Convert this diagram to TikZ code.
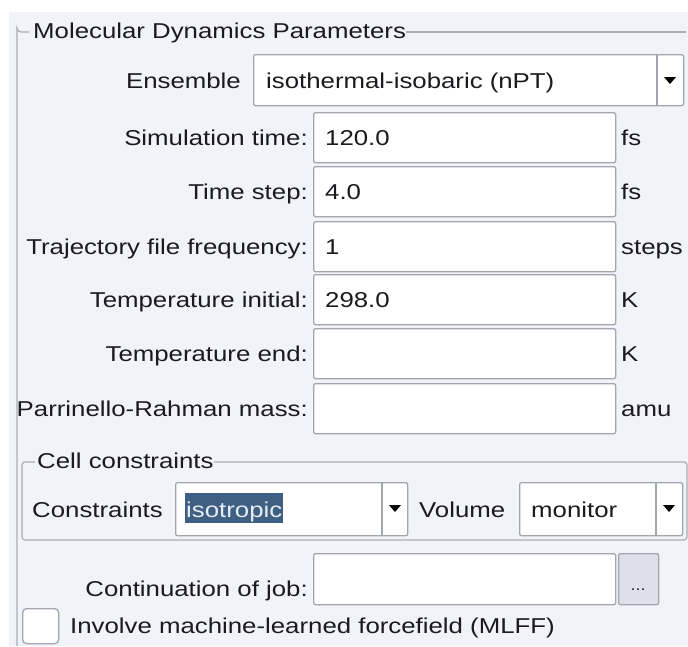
\documentclass[tikz,border=0pt]{standalone}
\usepackage{fontspec}
\setmainfont[FakeStretch=1.2]{Liberation Sans}
\definecolor{bg}{HTML}{F1F3F8}
\definecolor{frame}{HTML}{A9ADB5}
\definecolor{fborder}{HTML}{A2A6AE}
\definecolor{txt}{HTML}{1B1B1F}
\definecolor{btn}{HTML}{DDE0E8}
\definecolor{hl}{HTML}{3F6082}
\definecolor{hltxt}{HTML}{E6ECF3}
\begin{document}
\begin{tikzpicture}[x=1pt,y=-1pt,
  every node/.style={font=\fontsize{21.5}{24}\selectfont, text=txt, inner sep=0pt},
  lbl/.style={anchor=base east},
  val/.style={anchor=base west},
  field/.style={draw=fborder, line width=1.3pt, fill=white, rounded corners=2pt, anchor=north west},
  sep/.style={draw=fborder, line width=1.3pt},
  btnbox/.style={draw=fborder, line width=1.3pt, fill=btn, rounded corners=2pt, anchor=north west},
  frameline/.style={draw=frame, line width=1.2pt},
  tri/.style={fill=black}
]
\useasboundingbox (0,0) rectangle (688,646);
\fill[white] (0,0) rectangle (688,646);
\fill[bg] (9,12) rectangle (688,646);

% outer frame
\draw[frameline] (29,32) -- (21,32) arc[start angle=90,end angle=180,radius=4] -- (17,646);
\draw[frameline] (406,32) -- (686,32);
\node[anchor=base west] (title) at (33,38) {Molecular Dynamics Parameters};

% ensemble
\node[lbl] (lens) at (241,88) {Ensemble};
\node[field, minimum width=430, minimum height=51] (ens) at (253,54) {};
\draw[sep] (657,54) -- (657,105);
\node[val] (vens) at (266,88) {isothermal-isobaric (nPT)};
\fill[tri] (664,77) -- (676,77) -- (670,84) -- cycle;

% fields
\foreach \n/\y/\lab/\v/\u in {
  1/112/Simulation time:/120.0/fs,
  2/166/Time step:/4.0/fs,
  3/221/Trajectory file frequency:/1/steps,
  4/274/Temperature initial:/298.0/K,
  5/328/Temperature end:/ /K,
  6/383/Parrinello-Rahman mass:/ /amu}{
  \node[field, minimum width=302, minimum height=50] (f\n) at (313,\y) {};
  \node[lbl] (l\n) at (308,\y+33) {\lab};
  \node[val] (v\n) at (325,\y+33) {\v};
  \node[val] (u\n) at (621,\y+33) {\u};
}

% cell constraints frame
\draw[frameline, rounded corners=3pt] (35,462) -- (22,462) -- (22,540) -- (687,540) -- (687,462) -- (214,462);
\node[anchor=base west] (ctitle) at (37,468) {Cell constraints};
\node[anchor=base west] (lcon) at (32,517) {Constraints};
\node[field, minimum width=232, minimum height=53] (con) at (175,482) {};
\draw[sep] (382,482) -- (382,535);
\fill[hl] (185,493) rectangle (283,523);
\node[val, text=hltxt] (vcon) at (186,517) {isotropic};
\fill[tri] (389,505) -- (401,505) -- (395,512) -- cycle;
\node[anchor=base west] (lvol) at (419,517) {Volume};
\node[field, minimum width=163, minimum height=53] (vol) at (519,482) {};
\draw[sep] (656,482) -- (656,535);
\node[val] (vvol) at (531,517) {monitor};
\fill[tri] (663,505) -- (675,505) -- (669,512) -- cycle;

% continuation
\node[lbl] (lcont) at (308,596) {Continuation of job:};
\node[field, minimum width=302, minimum height=51] (cont) at (313,553) {};
\node[btnbox, minimum width=40, minimum height=51] (dots) at (618,553) {};
\node[anchor=base, font=\fontsize{15}{18}\selectfont] at (638,590) {...};

% checkbox
\node[field, minimum width=36, minimum height=35, rounded corners=4pt] (chk) at (22,608) {};
\node[anchor=base west] (lchk) at (70,633) {Involve machine-learned forcefield (MLFF)};
\end{tikzpicture}
\end{document}
